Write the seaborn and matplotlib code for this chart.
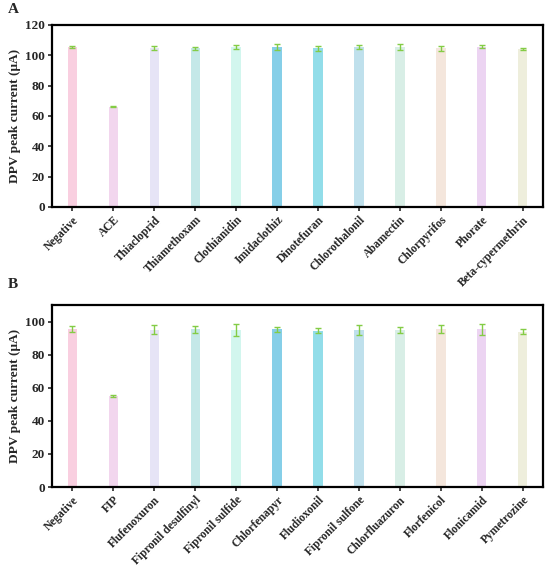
import matplotlib.pyplot as plt
import seaborn as sns
import pandas as pd
import numpy as np

sns.set_style('white')
plt.rcParams['font.family'] = ['Liberation Serif', 'DejaVu Serif']
plt.rcParams['font.weight'] = 'bold'

names_a = ['Negative', 'ACE', 'Thiacloprid', 'Thiamethoxam', 'Clothianidin',
           'Imidaclothiz', 'Dinotefuran', 'Chlorothalonil', 'Abamectin',
           'Chlorpyrifos', 'Phorate', 'Beta-cypermethrin']
vals_a = [105.3, 66.0, 104.7, 104.5, 105.3, 105.3, 104.5, 105.3, 105.5, 104.5, 105.5, 104.0]
errs_a = [0.5, 0.4, 1.2, 1.0, 1.2, 2.0, 1.5, 1.2, 1.8, 1.8, 1.0, 0.5]

names_b = ['Negative', 'FIP', 'Flufenoxuron', 'Fipronil desulfinyl', 'Fipronil sulfide',
           'Chlorfenapyr', 'Fludioxonil', 'Fipronil sulfone', 'Chlorfluazuron',
           'Florfenicol', 'Flonicamid', 'Pymetrozine']
vals_b = [95.5, 55.2, 95.0, 95.3, 95.0, 95.3, 94.5, 95.0, 95.0, 95.5, 95.3, 94.0]
errs_b = [1.8, 0.5, 2.8, 2.2, 3.6, 1.6, 1.5, 3.0, 2.0, 2.2, 3.5, 1.5]

colors = ['#f9cfe0', '#f2d6ee', '#e6e4f6', '#c4e8e8', '#d2f6ee', '#86cfe8',
          '#92dde9', '#bfe0ec', '#d8eee6', '#f4e6dc', '#ecd4f2', '#eeeedc']


def panel(ax, names, vals, errs, ymax, letter, ly):
    df = pd.DataFrame({'name': names, 'val': vals})
    sns.barplot(data=df, x='name', y='val', hue='name', palette=colors,
                width=0.23, saturation=1, legend=False, linewidth=0, ax=ax)
    ax.errorbar(np.arange(len(names)), vals, yerr=errs, fmt='none',
                ecolor='#84cc46', elinewidth=1.0, capsize=2.2, capthick=1.0)
    ax.set_xlim(-0.5, len(names) - 0.5)
    ax.set_ylim(0, ymax)
    ax.set_yticks(np.arange(0, ymax + 1, 20))
    ax.set_xlabel('')
    ax.set_ylabel('DPV peak current (\u03bcA)', fontsize=9.6, fontweight='bold',
                  labelpad=3)
    ax.set_xticks(np.arange(len(names)))
    ax.set_xticklabels(names, rotation=45, ha='right', rotation_mode='anchor',
                       fontsize=8.3, fontweight='bold')
    ax.tick_params(axis='y', labelsize=9.5)
    ax.tick_params(axis='both', direction='out', length=3, width=1.2,
                   bottom=True, left=True, pad=2)
    for s in ax.spines.values():
        s.set_linewidth(1.6)
        s.set_color('black')
    fig.text(0.015, ly, letter, fontsize=11, fontweight='bold', va='top')


fig = plt.figure(figsize=(5.5, 5.67), dpi=100)
ax1 = fig.add_axes([0.0945, 0.635, 0.893, 0.321])
ax2 = fig.add_axes([0.0945, 0.141, 0.893, 0.321])
panel(ax1, names_a, vals_a, errs_a, 120, 'A', 0.995)
panel(ax2, names_b, vals_b, errs_b, 110, 'B', 0.51)

fig.savefig('out.png', dpi=100)
